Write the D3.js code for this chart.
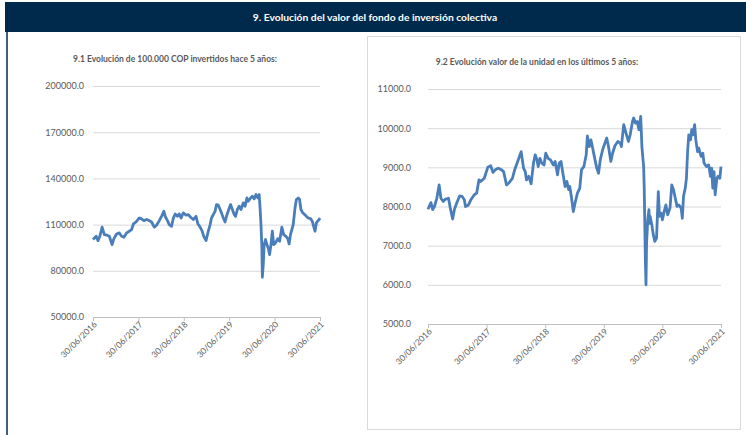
<!DOCTYPE html>
<html>
<head>
<meta charset="utf-8">
<script src="https://cdn.jsdelivr.net/npm/d3@7"></script>
<style>
  body { margin: 0; background: #fff; }
  svg { display: block; font-family: Lato, "Open Sans", sans-serif; }
</style>
</head>
<body>
<div id="chart"></div>
<script>
// ----------------------------------------------------------------
// Data (t = years since 30/06/2016)
// ----------------------------------------------------------------

const xTickLabels = ["30/06/2016", "30/06/2017", "30/06/2018", "30/06/2019", "30/06/2020", "30/06/2021"];

// 9.1 value of 100.000 COP invested
const leftT = [0, 0.07, 0.11, 0.15, 0.2, 0.25, 0.31, 0.36, 0.42, 0.46, 0.52, 0.58, 0.63, 0.68, 0.74, 0.8, 0.85, 0.89, 0.95,
  1.02, 1.07, 1.12, 1.18, 1.24, 1.29, 1.35, 1.4, 1.46, 1.51, 1.56, 1.59, 1.64, 1.68, 1.73, 1.77, 1.81, 1.86, 1.9, 1.94, 1.99,
  2.05, 2.1, 2.15, 2.21, 2.27, 2.31, 2.35, 2.4, 2.44, 2.49, 2.53, 2.58, 2.61, 2.65, 2.69, 2.72, 2.76, 2.8, 2.83, 2.87, 2.91, 2.94, 2.99,
  3.03, 3.07, 3.11, 3.14, 3.18, 3.22, 3.26, 3.31, 3.35, 3.39, 3.42, 3.47, 3.51, 3.55, 3.59, 3.63, 3.66, 3.68, 3.7, 3.72, 3.73, 3.75,
  3.77, 3.8, 3.83, 3.86, 3.89, 3.92, 3.95, 3.98, 4.02, 4.07, 4.11, 4.16, 4.2, 4.25, 4.29, 4.32, 4.35, 4.38, 4.41, 4.45, 4.48,
  4.52, 4.55, 4.58, 4.62, 4.65, 4.7, 4.74, 4.79, 4.83, 4.86, 4.89, 4.92, 4.95, 4.98, 5];
const leftV = [100300, 102400, 99600, 102400, 108300, 103500, 103100, 102400, 97000, 100900, 103900, 104600, 102400, 101800, 104600, 105700, 106800, 110400, 111700,
  114300, 113700, 112600, 113300, 112600, 111700, 108300, 109600, 112600, 115400, 118700, 115400, 112600, 110000, 108900, 114300, 116900, 115400, 116900, 114300, 117600,
  116100, 116500, 114800, 113300, 115400, 110400, 108900, 106100, 102400, 99600, 104600, 110000, 114300, 116500, 118700, 123000, 122600, 119800, 117600, 114300, 111700, 115400, 119800,
  123000, 119800, 116500, 115400, 119800, 121900, 119800, 124100, 121900, 127300, 125200, 127300, 128400, 126700, 129500, 127300, 129500, 120800, 110000, 94800, 75800, 84000,
  97000, 100300, 97000, 94800, 90500, 97000, 105700, 97000, 98100, 100900, 99200, 108300, 103500, 102400, 100900, 97400, 103500, 106800, 110000, 120800, 126300,
  127300, 126300, 119800, 117600, 116900, 115400, 114300, 113900, 112200, 108900, 105700, 111100, 112200, 113300, 114300];

// 9.2 unit value
const rightT = [0, 0.05, 0.08, 0.11, 0.15, 0.19, 0.22, 0.26, 0.3, 0.35, 0.38, 0.42, 0.45, 0.49, 0.54, 0.58, 0.62, 0.64, 0.69, 0.73, 0.79, 0.83, 0.87, 0.9, 0.96,
  1.02, 1.07, 1.11, 1.15, 1.2, 1.25, 1.29, 1.34, 1.38, 1.44, 1.48, 1.53, 1.59, 1.63, 1.66, 1.68, 1.72, 1.76, 1.8, 1.83, 1.86, 1.88, 1.91, 1.94, 1.98,
  2.01, 2.05, 2.09, 2.14, 2.17, 2.21, 2.24, 2.27, 2.31, 2.34, 2.37, 2.4, 2.42, 2.45, 2.48, 2.51, 2.55, 2.59, 2.62, 2.66, 2.7, 2.72, 2.75, 2.78, 2.81, 2.85, 2.88, 2.91, 2.94, 2.98,
  3.02, 3.05, 3.08, 3.12, 3.15, 3.19, 3.24, 3.28, 3.3, 3.34, 3.38, 3.42, 3.45, 3.49, 3.51, 3.54, 3.57, 3.6, 3.63, 3.65, 3.68, 3.69, 3.7, 3.71, 3.72, 3.73, 3.75, 3.77, 3.78, 3.79,
  3.82, 3.84, 3.87, 3.9, 3.93, 3.95, 3.98, 4.0, 4.03, 4.06, 4.09, 4.13, 4.16, 4.19, 4.22, 4.25, 4.28, 4.32, 4.34, 4.36, 4.39, 4.41, 4.43, 4.45, 4.48, 4.5, 4.52, 4.55, 4.57,
  4.6, 4.62, 4.66, 4.69, 4.71, 4.75, 4.79, 4.82, 4.84, 4.86, 4.88, 4.9, 4.93, 4.95, 4.98, 5];
const rightV = [7930, 8100, 7920, 8000, 8210, 8550, 8210, 8130, 8190, 8210, 7960, 7680, 7920, 8090, 8270, 8260, 8170, 8000, 8040, 8170, 8300, 8340, 8680, 8640, 8720,
  9000, 9040, 8870, 8940, 8980, 8940, 8890, 8550, 8600, 8720, 8940, 9150, 9400, 8980, 8890, 8680, 8770, 8580, 9110, 9320, 9190, 9020, 9230, 9110, 9060,
  9360, 9230, 9190, 9060, 9150, 8810, 9110, 9150, 8770, 8510, 8640, 8430, 8510, 8210, 7870, 8090, 8340, 8470, 8940, 9020, 9320, 9800, 9530, 9700, 9490, 9190, 8980, 8850, 9190, 9450,
  9620, 9750, 9530, 9150, 9360, 9550, 9660, 9620, 9530, 10090, 9870, 9660, 9830, 10170, 10260, 10130, 10170, 9960, 10300, 9530, 9020, 8470, 7490, 6550, 6000, 7060, 7660, 7920, 7570, 7750,
  7530, 7320, 7110, 7190, 8380, 7750, 7830, 7660, 7870, 8040, 7790, 7960, 8550, 8430, 8210, 8000, 8040, 7960, 7700, 8260, 8470, 8720, 9400, 9830, 9700, 9960, 9830, 10090, 9700,
  9400, 9490, 9280, 9360, 9110, 9020, 9060, 8770, 8980, 8470, 8890, 8300, 8720, 8770, 8720, 9020];

const leftTicks = [50000, 80000, 110000, 140000, 170000, 200000];
const rightTicks = [5000, 6000, 7000, 8000, 9000, 10000, 11000];

// ----------------------------------------------------------------
// Page
// ----------------------------------------------------------------

const W = 746, H = 435;
const svg = d3.select("#chart").append("svg").attr("width", W).attr("height", H);

svg.append("rect").attr("x", 5).attr("y", 2).attr("width", W - 5).attr("height", 30).attr("fill", "#002a4c");
svg.append("text").attr("x", 375).attr("y", 21).attr("text-anchor", "middle")
  .attr("fill", "#fff").attr("font-size", 10.3).attr("font-weight", "bold")
  .text("9. Evolución del valor del fondo de inversión colectiva");
svg.append("line").attr("x1", 7).attr("x2", 7).attr("y1", 32).attr("y2", H)
  .attr("stroke", "#002a4c").attr("stroke-width", 1.5);

// right chart frame
svg.append("rect").attr("x", 367.5).attr("y", 36.5).attr("width", 373).attr("height", 393)
  .attr("fill", "none").attr("stroke", "#d9d9d9");

// ----------------------------------------------------------------
// Chart drawing
// ----------------------------------------------------------------

function drawChart (opt) {
  const x = d3.scaleLinear().domain([0, 5]).range([opt.x0, opt.x1]);
  const y = d3.scaleLinear().domain(opt.domain).range([opt.y0, opt.y1]);
  const g = svg.append("g");

  g.append("text").attr("x", opt.titleX).attr("y", opt.titleY).attr("text-anchor", "middle")
    .attr("fill", "#595959").attr("font-size", 8.5).attr("font-weight", "bold").text(opt.title);

  // gridlines + y labels
  const yAxis = g.append("g").attr("transform", "translate(" + opt.x0 + ",0)")
    .call(d3.axisLeft(y).tickValues(opt.ticks).tickFormat(d => d3.format(".1f")(d))
      .tickSize(-(opt.x1 - opt.x0)).tickPadding(opt.pad));
  yAxis.select(".domain").remove();
  yAxis.selectAll(".tick line").attr("stroke", "#d9d9d9");
  yAxis.selectAll(".tick text").attr("fill", "#595959").attr("font-size", 9).attr("font-family", "Lato, sans-serif");

  // x axis
  const xAxis = g.append("g").attr("transform", "translate(0," + opt.y0 + ")")
    .call(d3.axisBottom(x).tickValues([0, 1, 2, 3, 4, 5]).tickFormat((d, i) => xTickLabels[i]).tickSize(4).tickSizeOuter(0));
  xAxis.select(".domain").attr("stroke", "#bfbfbf");
  xAxis.selectAll(".tick line").attr("stroke", "#bfbfbf");
  xAxis.selectAll(".tick text").attr("fill", "#595959").attr("font-size", 8.5).attr("font-family", "Lato, sans-serif")
    .attr("text-anchor", "end").attr("dy", 0).attr("y", 0)
    .attr("transform", "translate(4,8) rotate(-45)");

  const line = d3.line().x((d, i) => x(opt.t[i])).y(d => y(d));
  g.append("path").datum(opt.v).attr("d", line)
    .attr("fill", "none").attr("stroke", "#4a7ebb").attr("stroke-width", 2.8).attr("stroke-linejoin", "round");
}

drawChart({
  t: leftT, v: leftV, ticks: leftTicks, domain: [50000, 200000],
  x0: 93, x1: 320, y0: 317, y1: 86, pad: 9,
  title: "9.1 Evolución de 100.000 COP invertidos hace 5 años:", titleX: 175, titleY: 62
});

drawChart({
  t: rightT, v: rightV, ticks: rightTicks, domain: [5000, 11000],
  x0: 428, x1: 721, y0: 324, y1: 89, pad: 17,
  title: "9.2 Evolución valor de la unidad en los últimos 5 años:", titleX: 537, titleY: 65
});
</script>
</body>
</html>
